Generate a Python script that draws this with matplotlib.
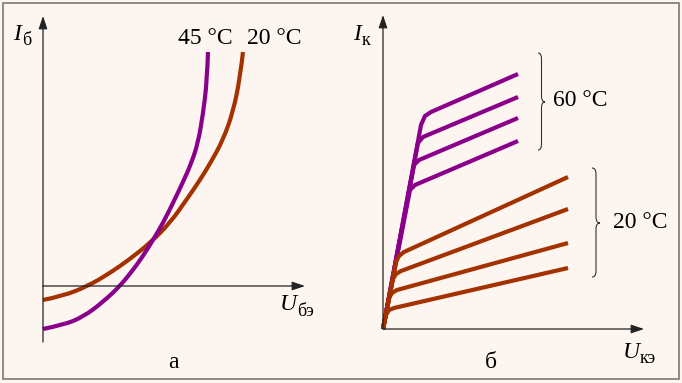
import matplotlib
matplotlib.use("Agg")
import matplotlib.pyplot as plt
from matplotlib.path import Path
from matplotlib.patches import PathPatch, Rectangle

plt.rcParams['font.family'] = ['Liberation Serif', 'DejaVu Serif']

# Colours
bg = '#FDF6F0'
purple = '#8B008B'
brown = '#A33200'

# Panel a: input characteristic Iб(Uбэ), arbitrary units
ube_45 = [0, 20, 40, 60, 77, 90, 100, 110, 120, 130, 140, 148, 155, 160, 164, 165]
ib_45 = [-43, -39, -31, -16, 0, 16, 30, 46, 63, 83, 104, 122, 143, 172, 205, 234]
ube_20 = [0, 20, 45, 67, 87, 107, 127, 144, 157, 168, 180, 190, 197, 200]
ib_20 = [-14, -10, 0, 13, 27, 43, 63, 87, 106, 124, 146, 174, 208, 234]

# Panel б: output characteristics Iк(Uкэ), four curves per temperature
uce_60 = [[0, 38, 42, 48, 135],
          [0, 35, 40, 135],
          [0, 31, 36, 135],
          [0, 27, 32, 135]]
ic_60 = [[0, 204, 213, 217, 255],
         [0, 186, 192, 232],
         [0, 164, 169, 211],
         [0, 139, 144, 188]]
uce_20 = [[0, 13, 16, 21, 185],
          [0, 10, 13, 18, 185],
          [0, 6, 9, 14, 185],
          [0, 3, 6, 11, 185]]
ic_20 = [[0, 67, 73, 77, 152],
         [0, 50, 55, 58, 120],
         [0, 31, 36, 39, 86],
         [0, 14, 19, 21, 61]]

fig = plt.figure(figsize=(6.82, 3.83), dpi=100, facecolor=bg)

# pixel overlay for frame and labels
ov = fig.add_axes([0, 0, 1, 1], zorder=5)
ov.set_xlim(0, 682)
ov.set_ylim(383, 0)
ov.axis('off')
ov.patch.set_alpha(0)
ov.add_patch(Rectangle((3, 3), 676, 376, fill=False, ec='#7a7a7a', lw=1.2))

ax_a = fig.add_axes([0, 0, 0.5, 1])
ax_a.set_xlim(-43, 298)
ax_a.set_ylim(-97, 286)
ax_b = fig.add_axes([0.5, 0, 0.5, 1])
ax_b.set_xlim(-42, 299)
ax_b.set_ylim(-54, 329)
for ax in (ax_a, ax_b):
    ax.axis('off')
    ax.patch.set_alpha(0)

arrow = dict(arrowstyle='-|>,head_length=0.65,head_width=0.22', color='#222222',
             lw=0.9, shrinkA=0, shrinkB=0, mutation_scale=12)


def smooth_curve(ax, xs, ys, color, lw):
    # quadratic B-spline path through the read-off points
    pts = list(zip(xs, ys))
    verts = [pts[0]]
    codes = [Path.MOVETO]
    for i in range(1, len(pts) - 1):
        nxt = pts[i + 1]
        mid = ((pts[i][0] + nxt[0]) / 2, (pts[i][1] + nxt[1]) / 2)
        if i == len(pts) - 2:
            mid = nxt
        verts += [pts[i], mid]
        codes += [Path.CURVE3, Path.CURVE3]
    ax.add_patch(PathPatch(Path(verts, codes), fill=False, ec=color, lw=lw,
                           capstyle='butt', joinstyle='round'))


lw = 3.0
# axes of panel a
ax_a.annotate('', xy=(0, 270), xytext=(0, -56), arrowprops=arrow)
ax_a.annotate('', xy=(262, 0), xytext=(0, 0), arrowprops=arrow)
smooth_curve(ax_a, ube_20, ib_20, brown, lw)
smooth_curve(ax_a, ube_45, ib_45, purple, lw)

# axes of panel b
ax_b.annotate('', xy=(0, 314), xytext=(0, 0), arrowprops=arrow)
ax_b.annotate('', xy=(261, 0), xytext=(0, 0), arrowprops=arrow)
for xs, ys in zip(uce_60, ic_60):
    ax_b.plot(xs, ys, color=purple, lw=lw, solid_capstyle='butt', solid_joinstyle='round')
for xs, ys in zip(uce_20, ic_20):
    ax_b.plot(xs, ys, color=brown, lw=lw, solid_capstyle='butt', solid_joinstyle='round')


def brace(x0, x1, y0, y1, ym):
    # right-facing curly brace in pixel coords
    xm = (x0 + x1) / 2
    verts = [(x0, y0), (xm, y0), (xm, y0 + 6), (xm, y0 + 8),
             (xm, ym - 6), (xm, ym), (x1, ym),
             (xm, ym), (xm, ym + 6), (xm, ym + 8),
             (xm, y1 - 6), (xm, y1), (x0, y1)]
    codes = [Path.MOVETO, Path.CURVE3, Path.CURVE3, Path.LINETO,
             Path.LINETO, Path.CURVE3, Path.CURVE3,
             Path.CURVE3, Path.CURVE3, Path.LINETO,
             Path.LINETO, Path.CURVE3, Path.CURVE3]
    ov.add_patch(PathPatch(Path(verts, codes), fill=False, ec='#333333', lw=0.8))


brace(538, 545, 53, 150, 102)
brace(592, 600, 168, 277, 223)

fs = 17
sub = 13
ov.text(178, 39, '45 °C', fontsize=fs, ha='left', va='center')
ov.text(247, 39, '20 °C', fontsize=fs, ha='left', va='center')
ov.text(553, 101, '60 °C', fontsize=fs, ha='left', va='center')
ov.text(613, 223, '20 °C', fontsize=fs, ha='left', va='center')

ov.text(13, 40, 'I', fontsize=fs, style='italic', ha='left', va='baseline')
ov.text(22, 45, 'б', fontsize=sub, ha='left', va='baseline')
ov.text(353, 40, 'I', fontsize=fs, style='italic', ha='left', va='baseline')
ov.text(362, 45, 'к', fontsize=sub, ha='left', va='baseline')
ov.text(280, 310, 'U', fontsize=fs, style='italic', ha='left', va='baseline')
ov.text(297, 316, 'бэ', fontsize=sub, ha='left', va='baseline')
ov.text(623, 358, 'U', fontsize=fs, style='italic', ha='left', va='baseline')
ov.text(640, 363, 'кэ', fontsize=sub, ha='left', va='baseline')

ov.text(173, 363, 'а', fontsize=fs, ha='center', va='center')
ov.text(491, 362, 'б', fontsize=fs, ha='center', va='center')

fig.savefig('out.png', dpi=100, facecolor=bg)
